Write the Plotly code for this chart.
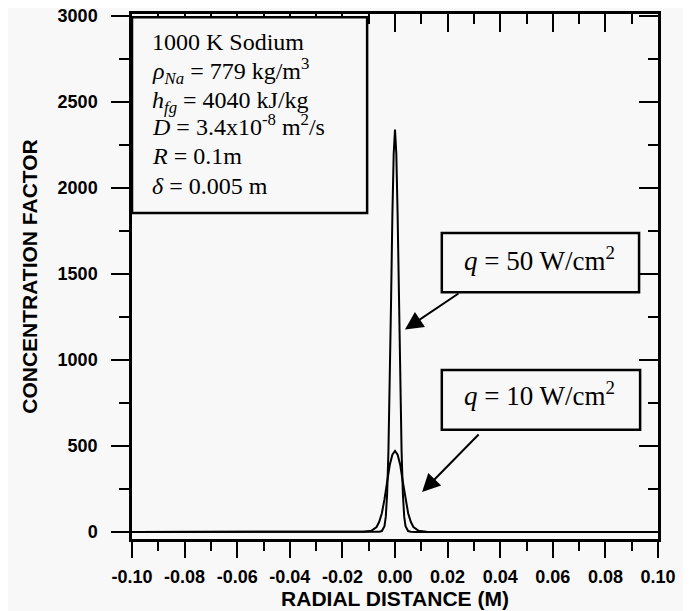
import plotly.graph_objects as go

# ---- data ----
q50_x = [-0.10, -0.05, -0.02, -0.008, -0.006, -0.005, -0.004, -0.0035, -0.003, -0.0025, -0.002, -0.0015,
         -0.001, -0.0005, 0.0, 0.0005, 0.001, 0.0015, 0.002, 0.0025, 0.003, 0.0035, 0.004, 0.005,
         0.006, 0.008, 0.02, 0.05, 0.10]
q50_y = [1, 1, 1, 1, 2, 6, 35, 90, 220, 470, 850, 1340,
         1840, 2200, 2340, 2200, 1840, 1340, 850, 470, 220, 90, 35, 6,
         2, 1, 1, 1, 1]

q10_x = [-0.10, -0.05, -0.02, -0.012, -0.009, -0.007, -0.006, -0.005, -0.004, -0.003, -0.002, -0.001,
         0.0, 0.001, 0.002, 0.003, 0.004, 0.005, 0.006, 0.007, 0.009, 0.012, 0.02, 0.05, 0.10]
q10_y = [1, 1, 1, 2, 8, 30, 60, 110, 190, 290, 390, 450,
         472, 450, 390, 290, 190, 110, 60, 30, 8, 2, 1, 1, 1]

x_tickvals = [-0.10, -0.08, -0.06, -0.04, -0.02, 0.00, 0.02, 0.04, 0.06, 0.08, 0.10]
x_ticktext = ["-0.10", "-0.08", "-0.06", "-0.04", "-0.02", "0.00", "0.02", "0.04", "0.06", "0.08", "0.10"]
y_tickvals = [0, 500, 1000, 1500, 2000, 2500, 3000]
y_ticktext = ["0", "500", "1000", "1500", "2000", "2500", "3000"]

info_lines = [
    "1000 K Sodium",
    "<i>ρ</i><sub><i>Na</i></sub> = 779 kg/m<sup>3</sup>",
    "<i>h</i><sub><i>fg</i></sub> = 4040 kJ/kg",
    "<i>D</i> = 3.4x10<sup>-8</sup> m<sup>2</sup>/s",
    "<i>R</i> = 0.1m",
    "<i>δ</i> = 0.005 m",
]
# vertical centre of each line in paper fraction
info_line_y = [0.946, 0.891, 0.832, 0.788, 0.729, 0.672]
label50 = "<i>q</i> = 50 W/cm<sup>2</sup>"
label10 = "<i>q</i> = 10 W/cm<sup>2</sup>"

BG = "#f8f8f8"
SANS = "Liberation Sans"
SERIF = "Liberation Serif"
XR = [-0.1, 0.1]
YR = [-40, 3012]

fig = go.Figure()
fig.add_trace(go.Scatter(x=q50_x, y=q50_y, mode="lines", line=dict(color="black", width=2),
                         showlegend=False, hoverinfo="skip"))
fig.add_trace(go.Scatter(x=q10_x, y=q10_y, mode="lines", line=dict(color="black", width=2),
                         showlegend=False, hoverinfo="skip"))
# invisible trace to register mirrored axes
fig.add_trace(go.Scatter(x=q10_x, y=q10_y, mode="lines", line=dict(color="rgba(0,0,0,0)", width=0),
                         xaxis="x2", yaxis="y2", showlegend=False, hoverinfo="skip"))

tickfont = dict(family=SANS, size=18, color="black", weight="bold")
titlefont = dict(family=SANS, size=21, color="black", weight="bold")

fig.update_layout(
    width=691, height=611,
    margin=dict(l=124, r=41, t=6, b=80),
    paper_bgcolor=BG, plot_bgcolor=BG,
    xaxis=dict(range=XR, tickvals=x_tickvals, ticktext=x_ticktext, ticks="outside", ticklen=16,
               tickwidth=2, tickcolor="black", showline=True, linewidth=2.5, linecolor="black",
               showgrid=False, zeroline=False, tickfont=tickfont, ticklabelstandoff=4,
               ticklabeloverflow="allow", automargin=False,
               minor=dict(dtick=0.01, tick0=0, ticks="outside", ticklen=9, tickwidth=2, tickcolor="black"),
               title=dict(text="RADIAL DISTANCE (M)", font=titlefont, standoff=0)),
    yaxis=dict(range=YR, tickvals=y_tickvals, ticktext=y_ticktext, ticks="outside", ticklen=18,
               tickwidth=2, tickcolor="black", showline=True, linewidth=2.5, linecolor="black",
               showgrid=False, zeroline=False, tickfont=tickfont, ticklabelstandoff=10,
               ticklabeloverflow="allow", automargin=False,
               minor=dict(dtick=250, tick0=0, ticks="outside", ticklen=10, tickwidth=2, tickcolor="black"),
               title=dict(text="CONCENTRATION FACTOR", font=titlefont, standoff=15)),
    xaxis2=dict(range=XR, overlaying="x", side="top", anchor="y", tickvals=x_tickvals, ticks="inside",
                ticklen=18, tickwidth=2, tickcolor="black", showticklabels=False, showline=True,
                linewidth=2.5, linecolor="black", showgrid=False, zeroline=False, automargin=False,
                minor=dict(dtick=0.01, tick0=0, ticks="inside", ticklen=10, tickwidth=2, tickcolor="black")),
    yaxis2=dict(range=YR, overlaying="y", side="right", anchor="x", tickvals=y_tickvals, ticks="inside",
                ticklen=19, tickwidth=2, tickcolor="black", showticklabels=False, showline=True,
                linewidth=2.5, linecolor="black", showgrid=False, zeroline=False, automargin=False,
                minor=dict(dtick=250, tick0=0, ticks="inside", ticklen=10, tickwidth=2, tickcolor="black")),
)

# boxes
box_line = dict(color="black", width=2.5)
fig.add_shape(type="rect", xref="paper", yref="paper", x0=0.0, x1=0.447, y0=0.621, y1=0.994,
              line=box_line, fillcolor=BG, layer="above")
fig.add_shape(type="rect", xref="paper", yref="paper", x0=0.589, x1=0.964, y0=0.470, y1=0.583,
              line=box_line, fillcolor=BG, layer="above")
fig.add_shape(type="rect", xref="paper", yref="paper", x0=0.589, x1=0.966, y0=0.208, y1=0.322,
              line=box_line, fillcolor=BG, layer="above")

serif = dict(family=SERIF, size=24, color="black")
for txt, yy in zip(info_lines, info_line_y):
    fig.add_annotation(xref="paper", yref="paper", x=0.036, y=yy, xanchor="left", yanchor="middle",
                       align="left", showarrow=False, text=txt, font=serif, borderpad=0)
serif_q = dict(family=SERIF, size=27, color="black")
fig.add_annotation(xref="paper", yref="paper", x=0.774, y=0.533, xanchor="center", yanchor="middle",
                   showarrow=False, text=label50, font=serif_q)
fig.add_annotation(xref="paper", yref="paper", x=0.774, y=0.276, xanchor="center", yanchor="middle",
                   showarrow=False, text=label10, font=serif_q)

# arrows
fig.add_annotation(x=0.0038, y=1178, xref="x", yref="y", text="", showarrow=True, arrowhead=2,
                   arrowsize=1.8, arrowwidth=2, arrowcolor="black", ax=55, ay=-37, standoff=0)
fig.add_annotation(x=0.0103, y=233, xref="x", yref="y", text="", showarrow=True, arrowhead=2,
                   arrowsize=1.8, arrowwidth=2, arrowcolor="black", ax=58, ay=-59, standoff=0)

fig.write_html("out.html")
